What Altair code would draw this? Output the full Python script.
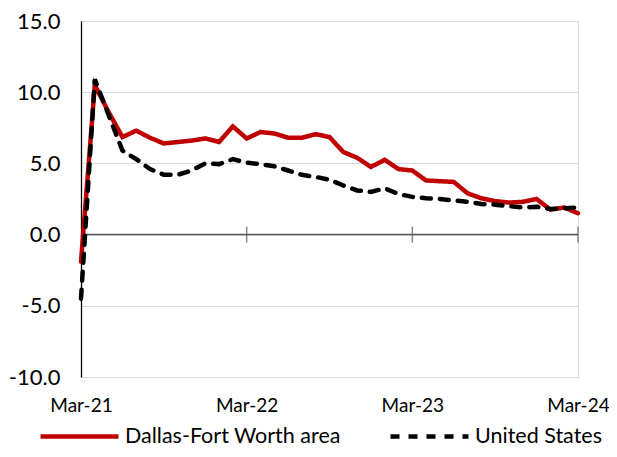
import altair as alt
import pandas as pd

months = list(pd.date_range("2021-03-01", "2024-03-01", freq="MS").strftime("%b-%y"))
tick_labels = ["Mar-21", "Mar-22", "Mar-23", "Mar-24"]
series_names = ["Dallas-Fort Worth area", "United States"]

dfw = [-1.9, 10.5, 8.6, 6.85, 7.3, 6.8, 6.4, 6.5, 6.6, 6.75, 6.5, 7.6,
       6.75, 7.2, 7.1, 6.8, 6.8, 7.05, 6.85, 5.8, 5.4, 4.75, 5.25, 4.6,
       4.5, 3.8, 3.75, 3.7, 2.9, 2.55, 2.35, 2.25, 2.3, 2.5, 1.75, 1.9, 1.5]
us = [-4.5, 10.9, 8.4, 5.9, 5.3, 4.6, 4.2, 4.2, 4.5, 5.0, 4.95, 5.3,
      5.05, 4.95, 4.8, 4.5, 4.2, 4.05, 3.85, 3.45, 3.1, 3.0, 3.25, 2.85,
      2.65, 2.55, 2.5, 2.4, 2.3, 2.15, 2.1, 2.0, 1.9, 1.95, 1.8, 1.85, 1.9]

rows = []
for name, vals in zip(series_names, [dfw, us]):
    for i, (m, v) in enumerate(zip(months, vals)):
        rows.append({"idx": i, "month": m, "value": v, "series": name})
df = pd.DataFrame(rows)

tick_idx = [months.index(t) for t in tick_labels]
ticks_df = pd.DataFrame({"idx": tick_idx[1:], "value": [0] * (len(tick_idx) - 1)})
zero_df = pd.DataFrame({"value": [0]})

FONT = "Lato"
label_expr = "{" + ",".join(f"'{i}':'{t}'" for i, t in zip(tick_idx, tick_labels)) + "}[datum.value]"

xscale = alt.Scale(domain=[0, len(months) - 1], nice=False, zero=False)
yscale = alt.Scale(domain=[-10, 15], nice=False)

zero_rule = alt.Chart(zero_df).mark_rule(color="#595959", strokeWidth=1.5).encode(
    y=alt.Y("value:Q", scale=yscale)
)

tick_marks = alt.Chart(ticks_df).mark_tick(
    color="#595959", thickness=1.5, size=16, orient="vertical"
).encode(
    x=alt.X("idx:Q", scale=xscale),
    y=alt.Y("value:Q", scale=yscale),
)

lines = alt.Chart(df).mark_line(strokeWidth=4.5, strokeCap="round", strokeJoin="miter").encode(
    x=alt.X("idx:Q", scale=xscale, title=None,
            axis=alt.Axis(values=tick_idx, labelExpr=label_expr, grid=False,
                          domain=False, ticks=False, labelPadding=19, labelFlush=False,
                          labelFontSize=19, labelFont=FONT, labelColor="#000000")),
    y=alt.Y("value:Q", scale=yscale, title=None,
            axis=alt.Axis(values=[-10, -5, 0, 5, 10, 15],
                          labelExpr="replace(format(datum.value, '.1f'), '\u2212', '-')",
                          grid=True, gridColor="#d9d9d9", gridWidth=1,
                          domain=True, domainColor="#000000", domainWidth=1.3,
                          ticks=False, labelPadding=21, labelFontSize=22,
                          labelFont=FONT, labelColor="#000000")),
    color=alt.Color("series:N", sort=series_names,
                    scale=alt.Scale(domain=series_names, range=["#C00000", "#000000"]),
                    legend=alt.Legend(title=None, orient="none", direction="horizontal",
                                      legendX=-43, legendY=374, padding=0,
                                      symbolType="stroke", symbolSize=6084,
                                      symbolStrokeWidth=4.5, labelFontSize=21.5,
                                      labelFont=FONT, labelColor="#000000",
                                      labelLimit=400,
                                      labelOffset=4, columnPadding=40)),
    strokeDash=alt.StrokeDash("series:N", sort=series_names,
                              scale=alt.Scale(domain=series_names, range=[[1, 0], [9, 9]]),
                              legend=None),
)

chart = alt.layer(zero_rule, tick_marks, lines).properties(
    width=497, height=356,
    autosize=alt.AutoSizeParams(type="none"),
    padding={"left": 73, "top": 13, "right": 31, "bottom": 72},
).configure_view(stroke="#d0d0d0", strokeWidth=1).configure(background="white")

chart.save("out.html", embed_options={"renderer": "svg", "actions": False})
